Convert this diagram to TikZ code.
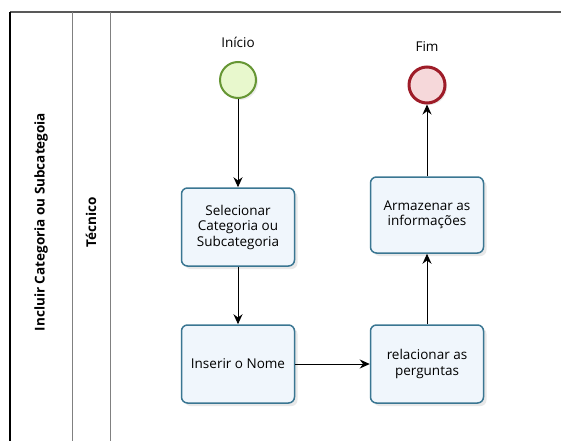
\documentclass[tikz,border=0pt]{standalone}
\usepackage{fontspec}
\setmainfont{Open Sans}
\usetikzlibrary{arrows.meta,shadows}

\definecolor{taskline}{RGB}{58,118,146}
\definecolor{taskfill}{RGB}{240,246,252}
\definecolor{startline}{RGB}{102,150,52}
\definecolor{startfill}{RGB}{232,248,205}
\definecolor{endline}{RGB}{158,28,40}
\definecolor{endfill}{RGB}{246,216,218}

\begin{document}
\begin{tikzpicture}[x=1pt,y=-1pt,font=\fontsize{13.5}{15.5}\selectfont]
\useasboundingbox (0,0) rectangle (561,441);
% pool and lane
\draw[gray!70!black,line width=1.5pt] (10,12) -- (561,12);
\draw[black,line width=1.2pt] (10,12) -- (10,441);
\draw[gray,line width=1pt] (72,12) -- (72,441);
\draw[gray,line width=1pt] (110,12) -- (110,441);
\node[rotate=90,font=\fontsize{13.5}{15}\bfseries] (pool) at (41,222) {Incluir Categoria ou Subcategoia};
\node[rotate=90,font=\fontsize{13.5}{15}\bfseries] (lane) at (91,222) {Técnico};

\begin{scope}[every node/.style={rectangle,rounded corners=6pt,draw=taskline,line width=1.5pt,
    fill=taskfill,minimum width=113pt,minimum height=78pt,align=center,
    drop shadow={opacity=0.18,shadow xshift=3pt,shadow yshift=-3pt}}]
    \node (sel) at (238,227) {Selecionar\\Categoria ou\\Subcategoria};
    \node (ins) at (238,364) {Inserir o Nome};
    \node (rel) at (427,364) {relacionar as\\perguntas};
    \node[minimum height=76pt] (arm) at (427,215) {Armazenar as\\informações};
\end{scope}
\begin{scope}[every node/.style={circle,minimum size=36pt,inner sep=0pt,
    drop shadow={opacity=0.15,shadow xshift=2pt,shadow yshift=-2pt}}]
    \node[draw=startline,fill=startfill,line width=2pt] (ini) at (238,80) {};
    \node[draw=endline,fill=endfill,line width=3pt] (fim) at (427,85) {};
\end{scope}
\node (iniL) at (238,42) {Início};
\node (fimL) at (427,47) {Fim};

\begin{scope}[>={Stealth[length=10pt,width=9pt]},line width=1pt]
    \draw[->] (ini) -- (sel);
    \draw[->] (sel) -- (ins);
    \draw[->] (ins) -- (rel);
    \draw[->] (rel) -- (arm);
    \draw[->] (arm) -- (fim);
\end{scope}
\end{tikzpicture}
\end{document}
